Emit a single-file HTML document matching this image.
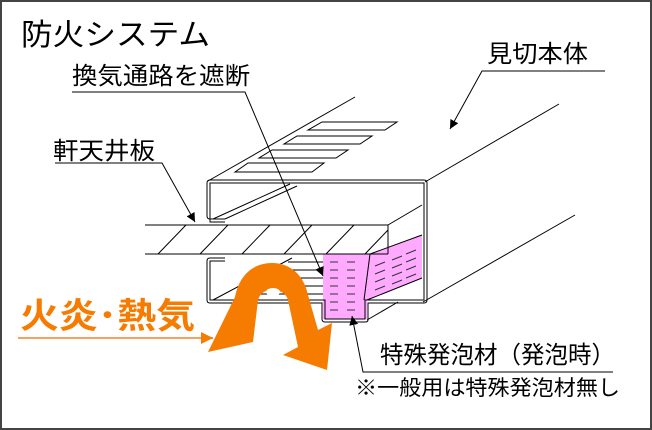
<!DOCTYPE html>
<html><head><meta charset="utf-8"><style>
html,body{margin:0;padding:0;background:#fff}
svg{display:block}
text{font-family:"Liberation Sans","Noto Sans CJK JP",sans-serif}
</style></head><body>
<svg width="652" height="430" viewBox="0 0 652 430" xmlns="http://www.w3.org/2000/svg">
<defs>
<marker id="ah" viewBox="0 0 10 10" refX="10" refY="5" markerWidth="9" markerHeight="12" orient="auto" markerUnits="userSpaceOnUse"><path d="M0,0 L10,5 L0,10 Z" fill="#000"/></marker>
<marker id="ao" viewBox="0 0 10 10" refX="10" refY="5" markerWidth="18" markerHeight="12" orient="auto" markerUnits="userSpaceOnUse"><path d="M0,0 L10,5 L0,10 Z" fill="#f57c00"/></marker>
</defs>
<rect x="1" y="1" width="650" height="428" fill="#fff" stroke="#444" stroke-width="2"/>

<g stroke="#000" stroke-width="1" fill="none">
<line x1="208" y1="181" x2="355" y2="97"/>
<line x1="425" y1="182" x2="559" y2="104"/>
<line x1="423" y1="302" x2="575" y2="215"/>
<polygon points="322,122 397,122 385,130 308,130"/>
<polygon points="297,136 372,136 360,144 284,144"/>
<polygon points="272,150 348,150 336,158 259,158"/>
<polygon points="248,163 324,163 312,172 235,172"/>
</g>

<polygon points="323,254 370,254 422,235 422,278 367,300 367,319 323,319" fill="#ffaaff"/>
<g stroke="#000" stroke-width="1" fill="none">
<line x1="370" y1="254" x2="364" y2="300"/>
<line x1="370" y1="254" x2="422" y2="235"/>
<line x1="367" y1="300" x2="422" y2="278"/>
</g>
<g stroke="#333" stroke-width="1">
<path d="M330,262h8M347,262h8M330,270h8M347,270h8M330,278h8M347,278h8M330,286h8M347,286h8M330,294h8M347,294h8M330,302h8M347,302h8M330,310h8M347,310h8"/>
<path d="M375,266l10,-4M392,260l10,-4M406,254l10,-4M375,274l10,-4M392,268l10,-4M406,262l10,-4M375,282l10,-4M392,276l10,-4M406,270l10,-4M375,290l10,-4M392,284l10,-4M406,278l10,-4"/>
</g>

<g fill="none" stroke="#000" stroke-width="1">
<path d="M225,219 L210,219 Q207,219 207,216 L207,183 Q207,180 210,180 L424,180 Q427,180 427,183 L427,300 Q427,303 424,303 L368,303 L368,320 Q368,322 365,322 L325,322 Q322,322 322,319 L322,303 L210,303 Q207,303 207,300 L207,261 Q207,258 210,258 L225,258"/>
<path d="M225,222 L210,222 L210,216 L210,183 L424,183 L424,300 L365,300 L365,319 L325,319 L325,300 L210,300 L210,261 L225,261"/>
<line x1="213" y1="219" x2="290" y2="184"/>
<line x1="225" y1="219" x2="297" y2="186"/>
<line x1="388" y1="225" x2="422" y2="205"/>
<line x1="388" y1="225" x2="388" y2="254"/>
<line x1="145" y1="225" x2="388" y2="225"/>
<line x1="145" y1="254" x2="388" y2="254"/>
<line x1="213" y1="300" x2="292" y2="258"/>
<path d="M288,262h35M280,270h43M272,278h51M264,286h59M258,294h65"/>
<line x1="367" y1="320" x2="398" y2="302"/>
</g>
<g stroke="#000" stroke-width="1">
<path d="M158,254l28,-29M200,254l28,-29M242,254l28,-29M284,254l28,-29M326,254l28,-29M365,254l23,-24"/>
</g>

<path d="M208,352 L235,297 C240,272 256,263 272,263 C290,263 304,275 308,295 L318,330 L332,323 L327,370 L283,355 L298,347 L288,300 C286,293 280,290 272,290 C264,290 260,294 258,300 L253,342 Z" fill="#f57c00"/>
<ellipse cx="273" cy="292" rx="7" ry="4" fill="#fff"/>

<g stroke="#000" stroke-width="1" fill="none">
<polyline points="72,92 245,92 323,276" marker-end="url(#ah)"/>
<polyline points="55,163 162,163 195,222" marker-end="url(#ah)"/>
<polyline points="605,71 482,71 450,129" marker-end="url(#ah)"/>
<polyline points="613,372 363,372 352,316" marker-end="url(#ah)"/>
</g>
<line x1="18" y1="338" x2="213" y2="338" stroke="#f9a060" stroke-width="2" marker-end="url(#ao)"/>

<text x="21" y="45" font-size="30" textLength="189" lengthAdjust="spacingAndGlyphs">防火システム</text>
<text x="72" y="84" font-size="24" textLength="178" lengthAdjust="spacingAndGlyphs">換気通路を遮断</text>
<text x="53" y="159" font-size="24" textLength="102" lengthAdjust="spacingAndGlyphs">軒天井板</text>
<text x="487" y="62" font-size="24" textLength="101" lengthAdjust="spacingAndGlyphs">見切本体</text>
<text x="20" y="328" font-size="35" font-weight="bold" fill="#f57c00" textLength="175" lengthAdjust="spacingAndGlyphs">火炎･熱気</text>
<text x="380" y="363" font-size="24" textLength="235" lengthAdjust="spacingAndGlyphs">特殊発泡材（発泡時）</text>
<text x="355" y="395" font-size="21" textLength="265" lengthAdjust="spacingAndGlyphs">※一般用は特殊発泡材無し</text>
</svg>
</body></html>
